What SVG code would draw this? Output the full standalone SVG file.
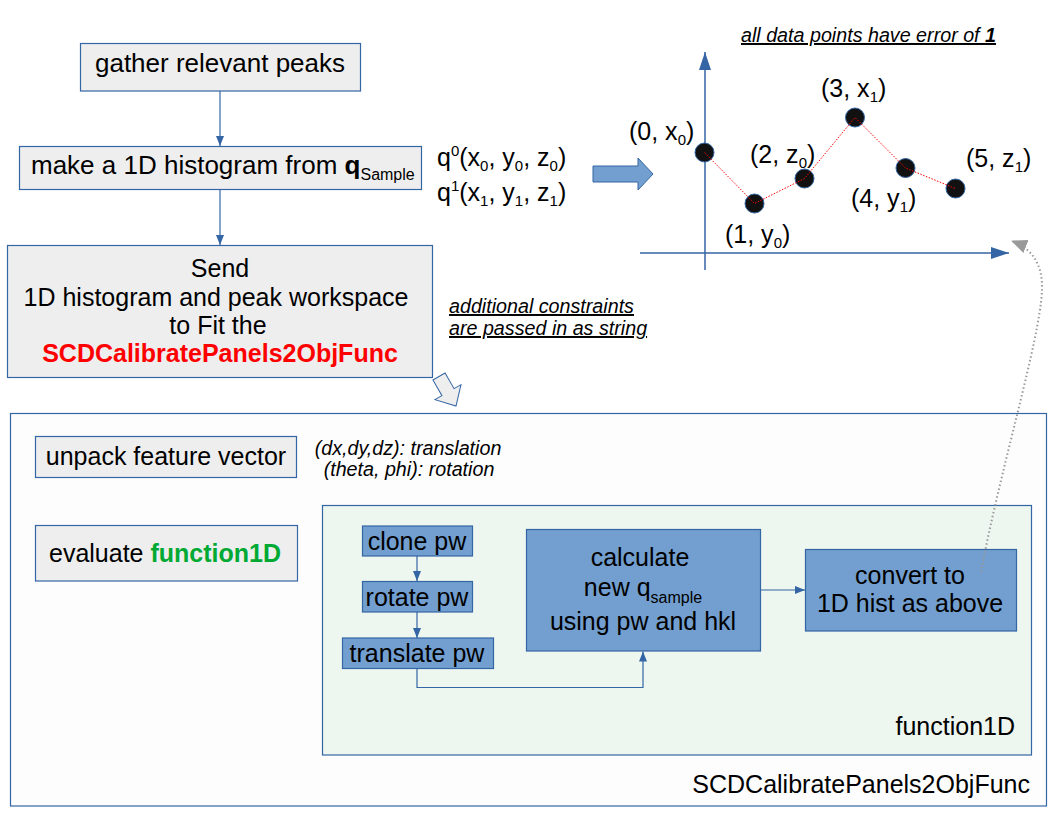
<svg xmlns="http://www.w3.org/2000/svg" width="1056" height="816" viewBox="0 0 1056 816">
<defs>
<style>
text{font-family:"Liberation Sans",Arial,sans-serif;fill:#000}
.t22{font-size:25px}
.t26{font-size:26px}
.s{font-size:15px}
.ss{font-size:16px}
.box{fill:#eeeeee;stroke:#3465a4;stroke-width:1.2}
.bbox{fill:#729fcf;stroke:#3465a4;stroke-width:1.2}
.con{fill:none;stroke:#3465a4;stroke-width:1.2}
.it{font-style:italic;font-size:19.7px;text-decoration:underline}
.it2{font-style:italic;font-size:19.7px}
.pt{fill:#111;stroke:#3465a4;stroke-width:1}
</style>
<marker id="ah" markerUnits="userSpaceOnUse" markerWidth="10" markerHeight="10" viewBox="0 0 10 10" refX="10" refY="5" orient="auto"><path d="M0,1 L10,5 L0,9 z" fill="#3465a4"/></marker>
<marker id="ahBig" markerUnits="userSpaceOnUse" markerWidth="18" markerHeight="14" viewBox="0 0 18 14" refX="18" refY="7" orient="auto"><path d="M0,1 L18,7 L0,13 z" fill="#3465a4"/></marker>
<marker id="ahGray" markerUnits="userSpaceOnUse" markerWidth="16" markerHeight="14" viewBox="0 0 16 14" refX="15" refY="7" orient="auto"><path d="M0,0 L16,7 L0,14 z" fill="#999999"/></marker>
</defs>
<rect width="1056" height="816" fill="#ffffff"/>

<g id="panel-outer">
<rect x="10.5" y="413.5" width="1036" height="392.5" fill="#fdfdfd" stroke="#3465a4" stroke-width="1.2"/>
<text class="t22" x="1030" y="793" text-anchor="end">SCDCalibratePanels2ObjFunc</text>
</g>
<g id="panel-function1D">
<rect x="322.5" y="505.5" width="709" height="249.5" fill="#edf6ef" stroke="#3465a4" stroke-width="1.2"/>
<text class="t22" x="1015" y="735" text-anchor="end">function1D</text>
</g>

<g id="gather">
<rect class="box" x="80.5" y="43.5" width="280" height="47.5"/>
<text class="t26" x="220" y="72" text-anchor="middle">gather relevant peaks</text>
</g>
<g id="make-hist">
<rect class="box" x="19.5" y="146.5" width="402" height="43"/>
<text class="t26" x="31" y="174">make a 1D histogram from <tspan font-weight="bold">q</tspan><tspan class="ss" dy="6">Sample</tspan></text>
</g>
<g id="send">
<rect class="box" x="7.5" y="245.5" width="425" height="132"/>
<text class="t22" x="220" y="277" text-anchor="middle">Send</text>
<text class="t22" x="216" y="306" text-anchor="middle">1D histogram and peak workspace</text>
<text class="t22" x="218" y="334" text-anchor="middle">to Fit the</text>
<text class="t22" x="220" y="362" text-anchor="middle" font-weight="bold" style="fill:#ff0000">SCDCalibratePanels2ObjFunc</text>
</g>

<g id="q-labels">
<text class="t22" x="437" y="166">q<tspan class="s" dy="-10">0</tspan><tspan dy="10">(x</tspan><tspan class="s" dy="5">0</tspan><tspan dy="-5">, y</tspan><tspan class="s" dy="5">0</tspan><tspan dy="-5">, z</tspan><tspan class="s" dy="5">0</tspan><tspan dy="-5">)</tspan></text>
<text class="t22" x="437" y="201">q<tspan class="s" dy="-10">1</tspan><tspan dy="10">(x</tspan><tspan class="s" dy="5">1</tspan><tspan dy="-5">, y</tspan><tspan class="s" dy="5">1</tspan><tspan dy="-5">, z</tspan><tspan class="s" dy="5">1</tspan><tspan dy="-5">)</tspan></text>
</g>

<g id="block-arrow">
<polygon points="593,166 638,166 638,158 653,174 638,190 638,182 593,182" fill="#729fcf" stroke="#3465a4" stroke-width="1"/>
</g>

<g id="graph">
<line x1="705" y1="270" x2="705" y2="52" stroke="#3465a4" stroke-width="1.5" marker-end="url(#ahBig)"/>
<line x1="640" y1="253" x2="1009" y2="253" stroke="#3465a4" stroke-width="1.5" marker-end="url(#ahBig)"/>
<circle class="pt" cx="704.5" cy="152.5" r="9.5"/>
<circle class="pt" cx="754.5" cy="203.5" r="9.5"/>
<circle class="pt" cx="804.5" cy="178.5" r="9.5"/>
<circle class="pt" cx="855" cy="117.5" r="9.5"/>
<circle class="pt" cx="905.5" cy="168" r="9.5"/>
<circle class="pt" cx="955.5" cy="188.5" r="9.5"/>
<polyline points="704.5,152.5 754.5,203.5 804.5,178.5 855,117.5 905.5,168 955.5,188.5" fill="none" stroke="#ff0000" stroke-width="1" stroke-dasharray="1.5 1.5"/>
<text class="t22" x="629" y="140">(0, x<tspan class="s" dy="5">0</tspan><tspan dy="-5">)</tspan></text>
<text class="t22" x="725" y="243">(1, y<tspan class="s" dy="5">0</tspan><tspan dy="-5">)</tspan></text>
<text class="t22" x="750" y="163">(2, z<tspan class="s" dy="5">0</tspan><tspan dy="-5">)</tspan></text>
<text class="t22" x="821" y="97">(3, x<tspan class="s" dy="5">1</tspan><tspan dy="-5">)</tspan></text>
<text class="t22" x="851" y="207">(4, y<tspan class="s" dy="5">1</tspan><tspan dy="-5">)</tspan></text>
<text class="t22" x="966" y="167">(5, z<tspan class="s" dy="5">1</tspan><tspan dy="-5">)</tspan></text>
<text class="it" x="741" y="42">all data points have error of <tspan font-weight="bold">1</tspan></text>
</g>

<g id="constraints-note">
<text class="it" x="449" y="313">additional constraints</text>
<text class="it" x="449" y="335">are passed in as string</text>
</g>

<g id="hollow-arrow">
<polygon points="-7,-34 7,-34 7,-16 15,-16 0,0 -15,-16 -7,-16" transform="translate(456,406) rotate(-30)" fill="#eeeeee" stroke="#3465a4" stroke-width="1"/>
</g>

<g id="unpack">
<rect class="box" x="35.5" y="436.5" width="261" height="41"/>
<text class="t22" x="166" y="465" text-anchor="middle">unpack feature vector</text>
</g>
<g id="param-note">
<text class="it2" x="408" y="455" text-anchor="middle">(dx,dy,dz): translation</text>
<text class="it2" x="409" y="476" text-anchor="middle">(theta, phi): rotation</text>
</g>
<g id="evaluate">
<rect class="box" x="35.5" y="525.5" width="262" height="55.5"/>
<text class="t22" x="165" y="562" text-anchor="middle">evaluate <tspan font-weight="bold" style="fill:#00a933">function1D</tspan></text>
</g>

<g id="clone">
<rect class="bbox" x="362.5" y="526" width="110" height="30"/>
<text class="t22" x="417" y="550" text-anchor="middle">clone pw</text>
</g>
<g id="rotate">
<rect class="bbox" x="362.5" y="581.5" width="110" height="30.5"/>
<text class="t22" x="417" y="606" text-anchor="middle">rotate pw</text>
</g>
<g id="translate">
<rect class="bbox" x="342.5" y="638" width="151" height="30.5"/>
<text class="t22" x="417" y="662" text-anchor="middle">translate pw</text>
</g>
<g id="calculate">
<rect class="bbox" x="526.5" y="529.5" width="234" height="121.5"/>
<text class="t22" x="640" y="566" text-anchor="middle">calculate</text>
<text class="t22" x="643" y="596" text-anchor="middle">new q<tspan class="ss" dy="7">sample</tspan></text>
<text class="t22" x="643" y="630" text-anchor="middle">using pw and hkl</text>
</g>
<g id="convert">
<rect class="bbox" x="805.5" y="549.5" width="211" height="81.5"/>
<text class="t22" x="910" y="584" text-anchor="middle">convert to</text>
<text class="t22" x="910" y="612" text-anchor="middle">1D hist as above</text>
</g>

<g id="connectors">
<line class="con" x1="220" y1="91" x2="220" y2="146" marker-end="url(#ah)"/>
<line class="con" x1="220" y1="189.5" x2="220" y2="245" marker-end="url(#ah)"/>
<line class="con" x1="417" y1="556" x2="417" y2="581" marker-end="url(#ah)"/>
<line class="con" x1="417" y1="612" x2="417" y2="638" marker-end="url(#ah)"/>
<path class="con" d="M417,668.5 V687.5 H643 V651.5" marker-end="url(#ah)"/>
<line class="con" x1="760.5" y1="590" x2="805" y2="590" marker-end="url(#ah)"/>
<path d="M981,572 C1000,470 1040,340 1042,290 C1043,262 1030,248 1012,241" fill="none" stroke="#999999" stroke-width="2" stroke-dasharray="1.5 2.5" marker-end="url(#ahGray)"/>
</g>
</svg>
